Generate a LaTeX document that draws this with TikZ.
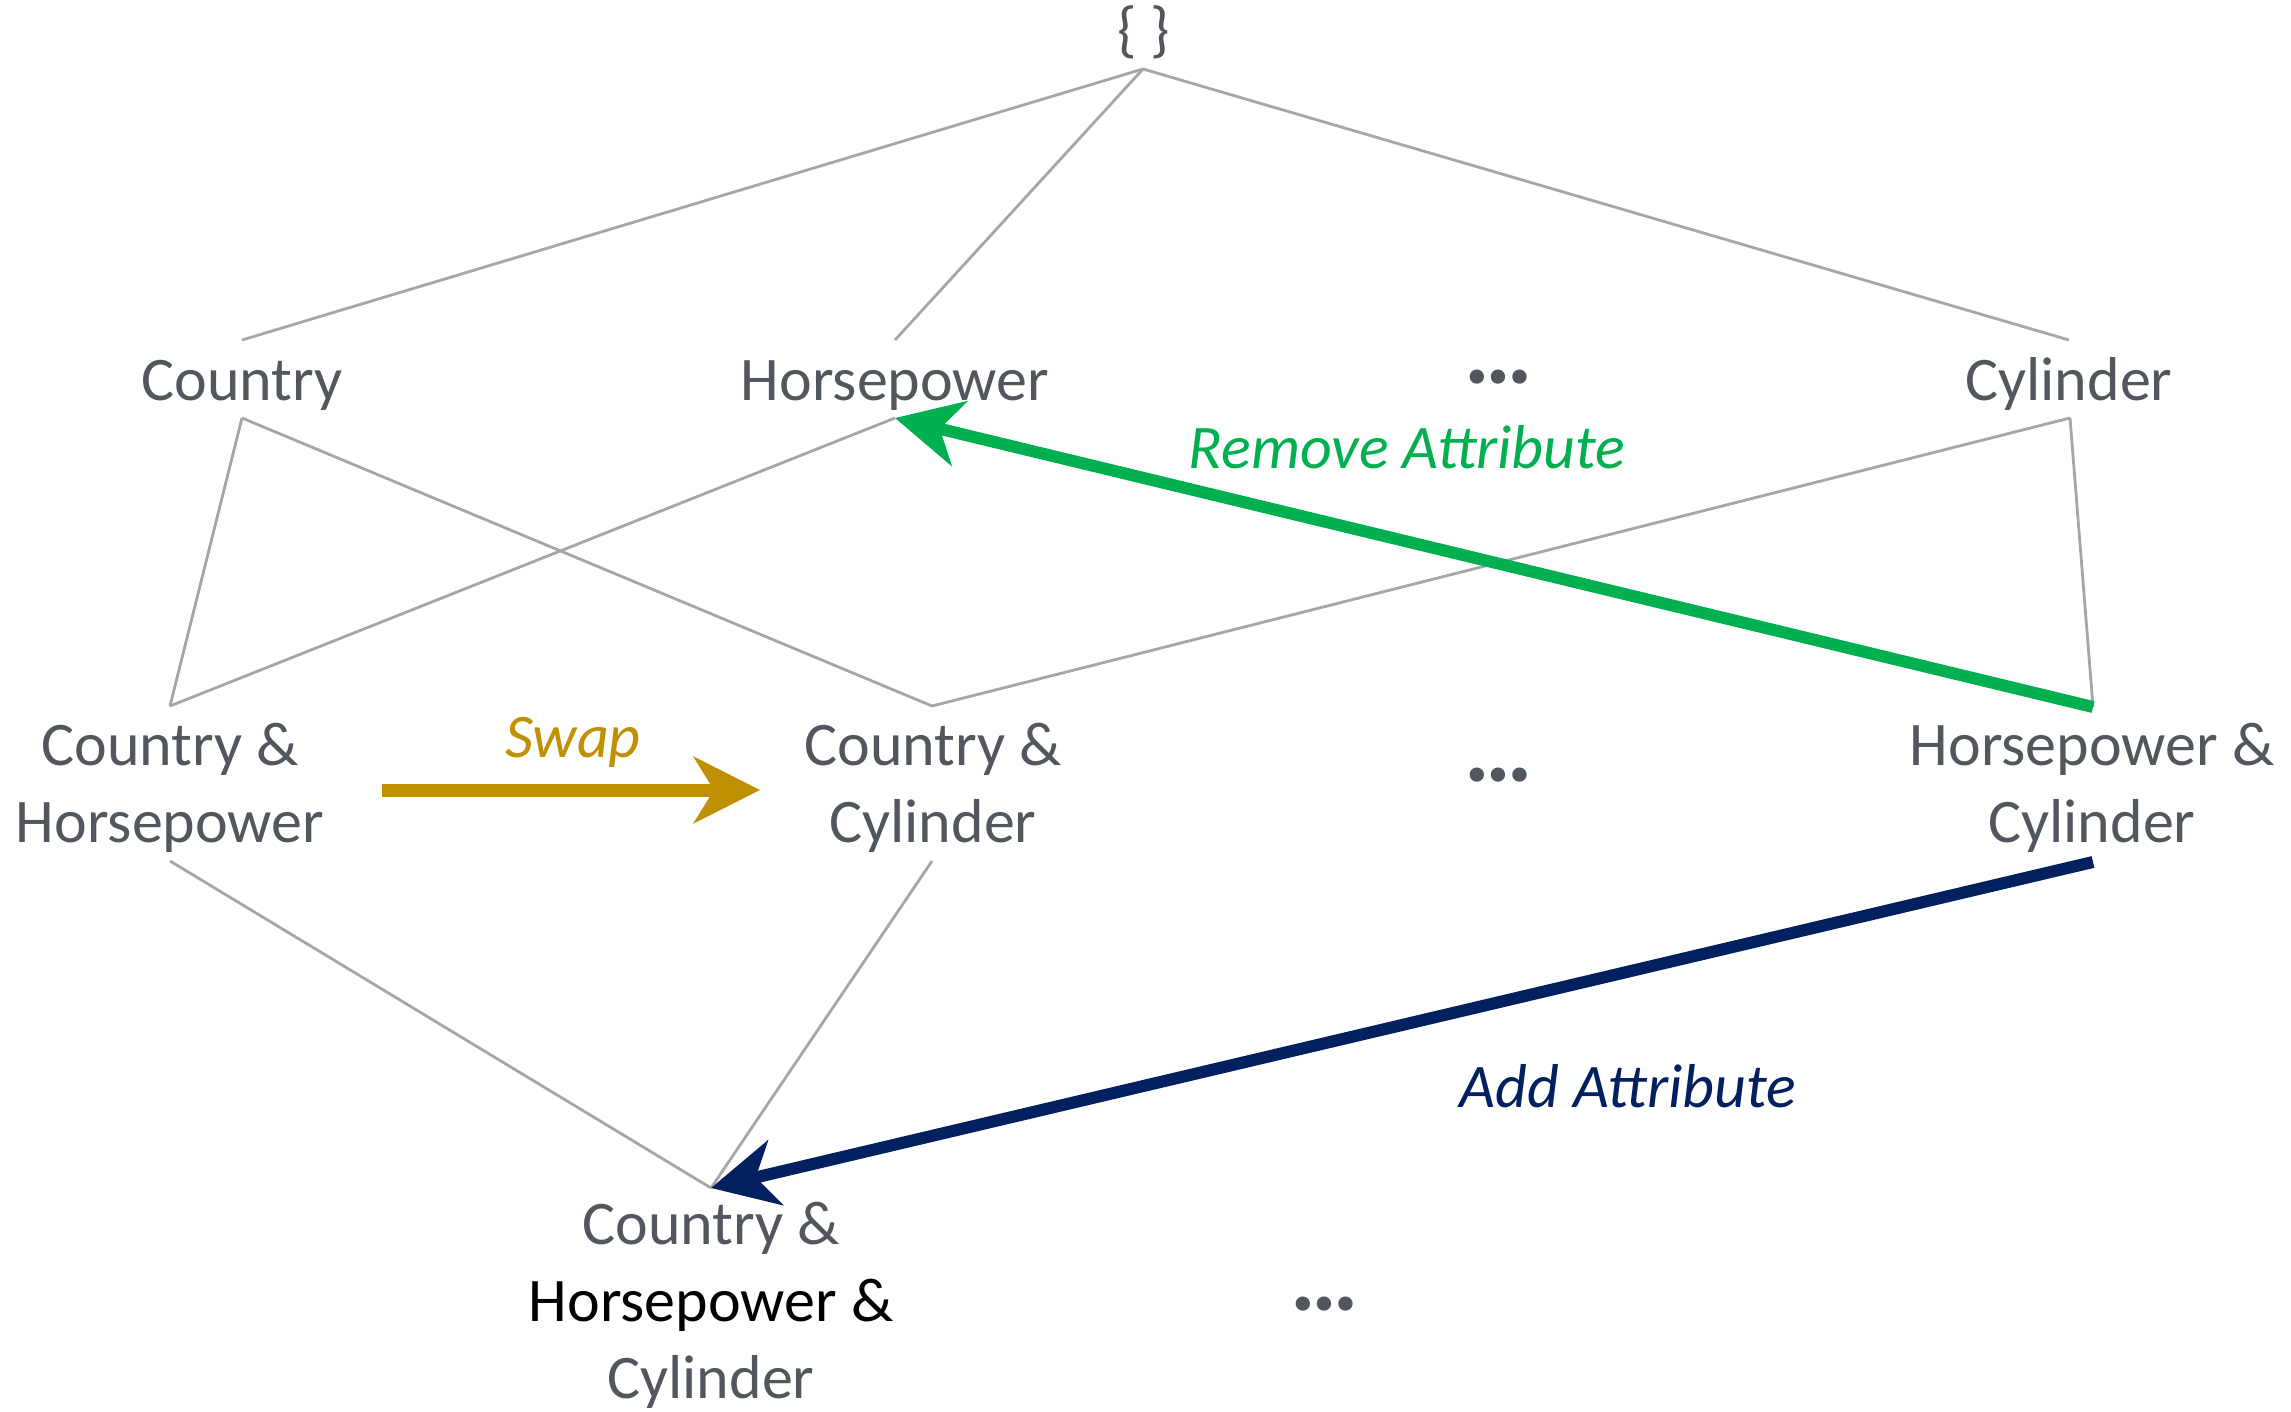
\documentclass[tikz,border=0pt]{standalone}
\usepackage{fontspec}
\setmainfont{Carlito}
\usetikzlibrary{arrows.meta}
\definecolor{txtgray}{HTML}{52575E}
\definecolor{edgegray}{HTML}{A6A6A6}
\definecolor{remgreen}{HTML}{00B050}
\definecolor{swapgold}{HTML}{BF9000}
\definecolor{addnavy}{HTML}{002060}
\tikzset{
  lbl/.style={font=\fontsize{31}{38.5}\selectfont, text=txtgray, align=center, inner sep=0pt, anchor=base},
  dotslbl/.style={font=\fontsize{48}{48}\selectfont\bfseries, text=txtgray, inner sep=0pt, anchor=base},
  oplbl/.style={font=\fontsize{31}{38.5}\selectfont\itshape, inner sep=0pt, anchor=base},
  lattice/.style={draw=edgegray, line width=1.4pt},
  oparrow/.style={line width=6pt, -{Stealth[length=33pt,width=33pt,inset=10pt]}}
}
\begin{document}
\begin{tikzpicture}[x=0.5pt,y=-0.5pt]
\useasboundingbox (0,0) rectangle (2291,1412);
% nodes (anchor base = baseline of the last line)
\node[lbl] (root) at (1144,51) {\{ \}};
\node[lbl] (country) at (242,400) {Country};
\node[lbl] (hp) at (895,400) {Horsepower};
\node[dotslbl] (dots1) at (1499,383) {…};
\node[lbl] (cyl) at (2069,400) {Cylinder};
\node[lbl] (chp) at (170,842) {Country \&\\Horsepower};
\node[lbl] (ccyl) at (933,842) {Country \&\\Cylinder};
\node[dotslbl] (dots2) at (1499,781) {…};
\node[lbl] (hpcyl) at (2092,842) {Horsepower \&\\Cylinder};
\node[lbl] (all) at (711,1398) {Country \&\\{\color{black}Horsepower \&}\\Cylinder};
\node[dotslbl] (dots3) at (1325,1310) {…};
% attach points
\coordinate (root-b) at (1143,69);
\coordinate (country-t) at (242,340);
\coordinate (country-b) at (242,418);
\coordinate (hp-t) at (895,340);
\coordinate (hp-b) at (895,418);
\coordinate (cyl-t) at (2069,340);
\coordinate (cyl-b) at (2070,418);
\coordinate (chp-t) at (170,706);
\coordinate (chp-b) at (170,861);
\coordinate (ccyl-t) at (932,706);
\coordinate (ccyl-b) at (932,861);
\coordinate (hpcyl-t) at (2093,707);
\coordinate (hpcyl-b) at (2093,862);
\coordinate (all-t) at (711,1188);
\coordinate (swap-s) at (382,790);
\coordinate (swap-e) at (760,790);
% lattice edges
\draw[lattice] (root-b) -- (country-t);
\draw[lattice] (root-b) -- (hp-t);
\draw[lattice] (root-b) -- (cyl-t);
\draw[lattice] (country-b) -- (chp-t);
\draw[lattice] (country-b) -- (ccyl-t);
\draw[lattice] (hp-b) -- (chp-t);
\draw[lattice] (cyl-b) -- (ccyl-t);
\draw[lattice] (cyl-b) -- (hpcyl-t);
\draw[lattice] (chp-b) -- (all-t);
\draw[lattice] (ccyl-b) -- (all-t);
% operation arrows
\draw[oparrow, draw=remgreen, fill=remgreen] (hpcyl-t) -- (hp-b);
\draw[oparrow, draw=swapgold, fill=swapgold, line width=6.5pt] (swap-s) -- (swap-e);
\draw[oparrow, draw=addnavy, fill=addnavy] (hpcyl-b) -- (all-t);
% operation labels
\node[oplbl, text=remgreen] (remlbl) at (1407,468) {Remove Attribute};
\node[oplbl, text=swapgold] (swaplbl) at (573,757) {Swap};
\node[oplbl, text=addnavy] (addlbl) at (1628,1107) {Add Attribute};
\end{tikzpicture}
\end{document}
